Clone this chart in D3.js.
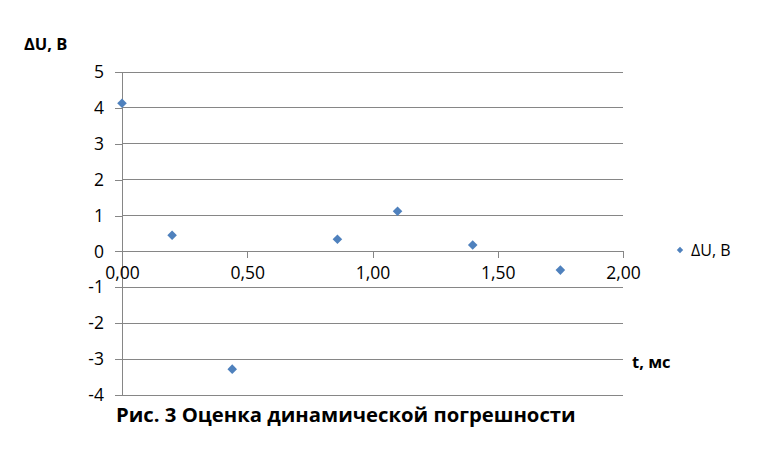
<!DOCTYPE html>
<html><head><meta charset="utf-8">
<script src="https://cdn.jsdelivr.net/npm/d3@7"></script>
<style>body{margin:0;background:#fff}svg{display:block}text{font-family:"Open Sans","Noto Sans",sans-serif}</style>
</head><body>
<svg id="c" width="759" height="450"></svg>
<script>
const tValues = [0.00, 0.20, 0.44, 0.86, 1.10, 1.40, 1.75];
const duValues = [4.13, 0.45, -3.28, 0.34, 1.12, 0.18, -0.52];
const xTicks = [0, 0.5, 1, 1.5, 2];
const yTicks = [-4, -3, -2, -1, 0, 1, 2, 3, 4, 5];
const seriesName = "ΔU, В";
const xTitle = "t, мс";
const caption = "Рис. 3 Оценка динамической погрешности";

const svg = d3.select("#c");
const x = d3.scaleLinear().domain([0, 2]).range([122, 623]);
const y = d3.scaleLinear().domain([-4, 5]).range([395, 72]);
const grid = "#868686";
const fmt = d => d.toFixed(2).replace(".", ",");

svg.append("g").selectAll("line").data(yTicks).join("line")
  .attr("x1", x(0)).attr("x2", x(2)).attr("y1", d => y(d)).attr("y2", d => y(d))
  .attr("stroke", grid).attr("stroke-width", 1).attr("shape-rendering", "crispEdges");

const ya = svg.append("g").attr("transform", `translate(${x(0)},0)`)
  .call(d3.axisLeft(y).tickValues(yTicks).tickSize(7).tickPadding(11).tickFormat(d3.format("d")));
ya.select(".domain").attr("stroke", grid).attr("shape-rendering", "crispEdges");
ya.selectAll(".tick line").attr("stroke", grid).attr("shape-rendering", "crispEdges");
ya.selectAll(".tick text").attr("font-size", 17.5).attr("fill", "#000").attr("font-family", '"Open Sans",sans-serif').text(d => d < 0 ? "-" + Math.abs(d) : d);

const xa = svg.append("g").attr("transform", `translate(0,${y(0)})`)
  .call(d3.axisBottom(x).tickValues(xTicks).tickSize(7).tickPadding(8).tickFormat(fmt));
xa.select(".domain").attr("stroke", grid).attr("shape-rendering", "crispEdges");
xa.selectAll(".tick line").attr("stroke", grid).attr("shape-rendering", "crispEdges");
xa.selectAll(".tick text").attr("font-size", 17.5).attr("fill", "#000").attr("font-family", '"Open Sans",sans-serif');

const data = tValues.map((t, i) => ({t, v: duValues[i]}));
svg.append("g").selectAll("path").data(data).join("path")
  .attr("d", d3.symbol().type(d3.symbolSquare).size(46))
  .attr("transform", d => `translate(${x(d.t)},${y(d.v)}) rotate(45)`)
  .attr("fill", "#4F81BD");

svg.append("text").attr("x", 24).attr("y", 50).attr("font-size", 16.5).attr("font-weight", "bold").text(seriesName);
svg.append("text").attr("x", 632).attr("y", 368).attr("font-size", 16.5).attr("font-weight", "bold").text(xTitle);
const cap = svg.append("text").attr("x", 116).attr("y", 422).attr("font-size", 19).attr("font-weight", "bold").text(caption);
const w = cap.node().getComputedTextLength();
if (w > 0) cap.attr("font-size", 19 * 460 / w);

svg.append("path").attr("d", d3.symbol().type(d3.symbolSquare).size(20)())
  .attr("transform", "translate(680,250) rotate(45)").attr("fill", "#4F81BD");
svg.append("text").attr("x", 691).attr("y", 256).attr("font-size", 16).text(seriesName);
</script>
</body></html>
